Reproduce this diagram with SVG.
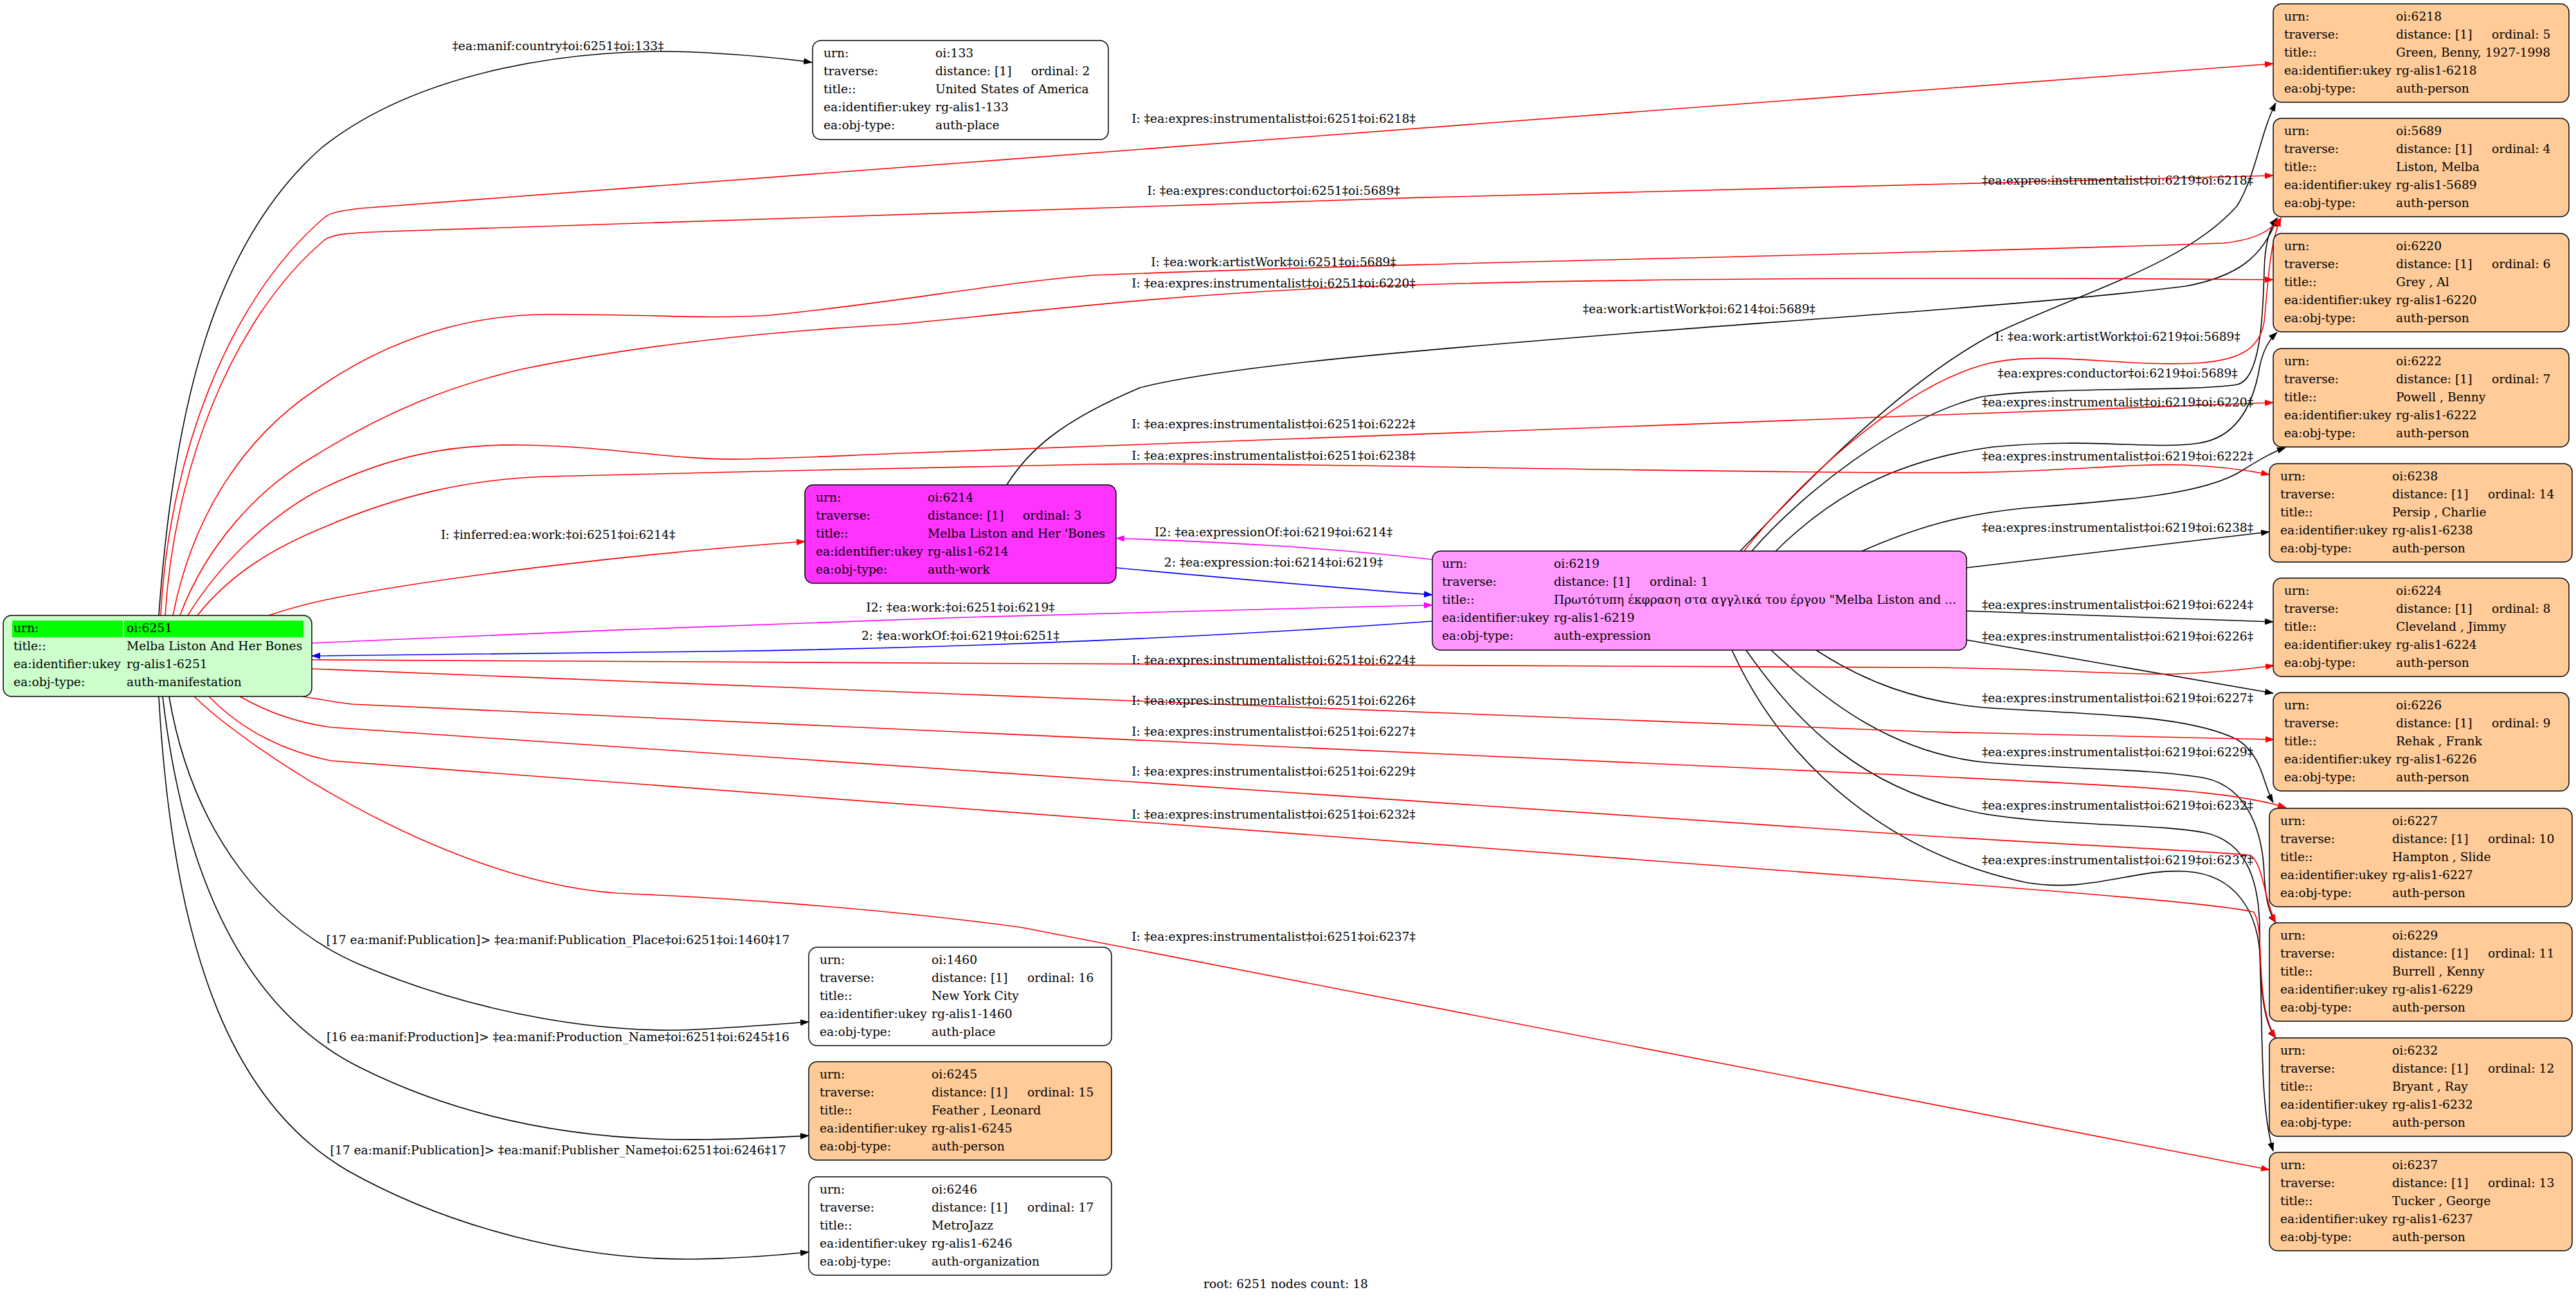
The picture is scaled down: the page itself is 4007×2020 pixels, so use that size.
<svg xmlns="http://www.w3.org/2000/svg" width="4007" height="2020" viewBox="0 0 4007 2020">
<defs>
<style>
text{font-family:"DejaVu Serif","Liberation Serif",serif;font-size:18.7px;fill:#000}
.lbl{text-anchor:middle}
.box{stroke:#000;stroke-width:1.5}
.w{fill:#fff}.p{fill:#ffcc99}.g{fill:#ccffcc}.mw{fill:#ff33ff}.me{fill:#ff99ff}
.e{fill:none;stroke-width:1.6}
.r{stroke:#f00}.k{stroke:#000}.m{stroke:#f0f}.b{stroke:#00f}
</style>
<marker id="ak" viewBox="0 0 14 10" refX="13" refY="5" markerWidth="14" markerHeight="10" markerUnits="userSpaceOnUse" orient="auto"><path d="M0,0L14,5L0,10z" fill="#000"/></marker>
<marker id="ar" viewBox="0 0 14 10" refX="13" refY="5" markerWidth="14" markerHeight="10" markerUnits="userSpaceOnUse" orient="auto"><path d="M0,0L14,5L0,10z" fill="#f00"/></marker>
<marker id="am" viewBox="0 0 14 10" refX="13" refY="5" markerWidth="14" markerHeight="10" markerUnits="userSpaceOnUse" orient="auto"><path d="M0,0L14,5L0,10z" fill="#f0f"/></marker>
<marker id="ab" viewBox="0 0 14 10" refX="13" refY="5" markerWidth="14" markerHeight="10" markerUnits="userSpaceOnUse" orient="auto"><path d="M0,0L14,5L0,10z" fill="#00f"/></marker>
</defs>
<rect width="4007" height="2020" fill="#fff"/>

<g id="connectors">
<!-- black edges -->
<path class="e k" marker-end="url(#ak)" d="M247,957 C270,640 330,380 500,230 C650,110 900,70 1100,82 C1170,86 1220,91 1263,97"/>
<path class="e k" marker-end="url(#ak)" d="M263,1083 C300,1300 420,1440 560,1500 C750,1580 950,1610 1100,1600 C1170,1596 1220,1592 1258,1589"/>
<path class="e k" marker-end="url(#ak)" d="M253,1083 C290,1400 400,1580 560,1660 C720,1740 900,1775 1100,1772 C1170,1771 1220,1768 1258,1766"/>
<path class="e k" marker-end="url(#ak)" d="M247,1083 C270,1500 370,1720 540,1820 C700,1910 900,1960 1080,1958 C1150,1957 1210,1952 1258,1947"/>
<path class="e k" marker-end="url(#ak)" d="M1566,754 C1600,700 1650,655 1773,603 C1900,570 2200,545 2548,517 C2900,490 3200,470 3400,445 C3480,430 3520,400 3542,339"/>
<path class="e k" marker-end="url(#ak)" d="M2706,858 C2800,760 2950,600 3100,520 C3250,450 3400,410 3480,320 C3510,270 3515,210 3540,160"/>
<path class="e k" marker-end="url(#ak)" d="M2724,858 C2800,770 2950,650 3082,617 C3200,600 3400,610 3480,598 C3515,590 3520,500 3522,420 C3523,380 3530,355 3542,339"/>
<path class="e k" marker-end="url(#ak)" d="M2761,858 C2850,770 2950,715 3100,695 C3250,680 3350,700 3421,689 C3480,680 3505,630 3515,570 C3520,545 3530,528 3542,517"/>
<path class="e k" marker-end="url(#ak)" d="M2894,858 C2980,820 3050,800 3150,790 C3300,778 3420,770 3482,735 C3510,718 3530,705 3555,696"/>
<path class="e k" marker-end="url(#ak)" d="M3058,883 L3530,827"/>
<path class="e k" marker-end="url(#ak)" d="M3058,950 L3536,967"/>
<path class="e k" marker-end="url(#ak)" d="M3058,995 L3536,1078"/>
<path class="e k" marker-end="url(#ak)" d="M2825,1011 C2900,1060 2980,1090 3083,1100 C3250,1112 3400,1110 3480,1150 C3520,1175 3520,1220 3536,1248"/>
<path class="e k" marker-end="url(#ak)" d="M2755,1011 C2850,1100 2950,1170 3083,1185 C3200,1196 3350,1195 3430,1210 C3500,1225 3520,1300 3522,1360 C3524,1400 3530,1420 3540,1435"/>
<path class="e k" marker-end="url(#ak)" d="M2716,1011 C2800,1130 2900,1230 3083,1265 C3200,1285 3350,1280 3430,1295 C3500,1310 3515,1380 3515,1450 C3515,1530 3520,1590 3540,1614"/>
<path class="e k" marker-end="url(#ak)" d="M2694,1011 C2780,1200 2950,1330 3150,1372 C3250,1390 3320,1350 3400,1355 C3480,1360 3510,1420 3515,1480 C3520,1600 3515,1720 3536,1790"/>
<!-- blue / magenta -->
<path class="e b" marker-end="url(#ab)" d="M1736,883 C1900,898 2050,912 2228,925"/>
<path class="e b" marker-end="url(#ab)" d="M2228,966 C1900,990 1500,1008 1100,1013 C800,1016 600,1018 485,1020"/>
<path class="e m" marker-end="url(#am)" d="M2228,870 C2050,850 1900,843 1736,837"/>
<path class="e m" marker-end="url(#am)" d="M485,1000 C800,985 1200,970 1500,960 C1800,952 2000,946 2228,941"/>
<!-- red edges -->
<path class="e r" marker-end="url(#ar)" d="M250,957 C262,720 350,470 505,338 C515,330 530,328 560,324 L3536,99"/>
<path class="e r" marker-end="url(#ar)" d="M257,957 C270,740 355,500 505,373 C520,362 560,362 600,360 C1500,325 2600,295 3536,273"/>
<path class="e r" marker-end="url(#ar)" d="M269,957 C300,800 380,680 491,606 C600,530 720,490 850,489 C1000,488 1100,497 1200,490 C1400,470 1550,440 1700,428 C2300,405 3000,395 3460,378 C3510,372 3530,360 3548,339"/>
<path class="e r" marker-end="url(#ar)" d="M280,957 C320,850 400,760 491,708 C600,640 700,600 812,574 C1000,535 1200,515 1400,504 C1600,485 1800,460 2064,448 C2400,433 3000,430 3536,435"/>
<path class="e r" marker-end="url(#ar)" d="M292,957 C340,880 410,810 491,765 C600,710 700,690 812,692 C950,694 1050,716 1156,714 C1250,712 1320,708 1400,705 L3536,626"/>
<path class="e r" marker-end="url(#ar)" d="M307,957 C360,890 430,850 506,819 C620,770 730,745 850,741 C1100,735 1500,725 1700,722 C2000,718 2500,734 3000,735 C3200,736 3300,720 3397,723 C3450,725 3490,730 3530,738"/>
<path class="e r" marker-end="url(#ar)" d="M418,957 C450,946 480,938 520,930 C700,895 1000,860 1252,842"/>
<path class="e r" marker-end="url(#ar)" d="M2712,858 C2780,770 2950,600 3094,565 C3180,545 3300,570 3409,565 C3480,562 3515,545 3522,500 C3528,440 3530,380 3548,339"/>
<path class="e r" marker-end="url(#ar)" d="M485,1026 C1200,1030 2400,1036 3000,1038 C3200,1040 3300,1050 3385,1048 C3450,1046 3500,1040 3537,1035"/>
<path class="e r" marker-end="url(#ar)" d="M485,1040 C1500,1080 2600,1125 3000,1138 C3300,1146 3450,1149 3537,1150"/>
<path class="e r" marker-end="url(#ar)" d="M470,1083 C490,1086 510,1090 547,1095 L3020,1208 C3300,1222 3470,1228 3556,1256"/>
<path class="e r" marker-end="url(#ar)" d="M373,1083 C420,1110 470,1125 515,1131 L3000,1300 C3300,1318 3460,1325 3500,1330 C3520,1340 3522,1400 3540,1435"/>
<path class="e r" marker-end="url(#ar)" d="M325,1083 C380,1140 450,1170 515,1183 L3000,1371 C3300,1393 3460,1408 3505,1418 C3525,1440 3505,1560 3540,1614"/>
<path class="e r" marker-end="url(#ar)" d="M302,1083 C380,1160 700,1380 981,1390 C1100,1395 1350,1410 1588,1442 L3530,1819"/>
<!-- edge labels -->
<text class="lbl" x="868" y="78">‡ea:manif:country‡oi:6251‡oi:133‡</text>
<text class="lbl" x="868" y="838">I: ‡inferred:ea:work:‡oi:6251‡oi:6214‡</text>
<text class="lbl" x="868" y="1468">[17 ea:manif:Publication]&gt; ‡ea:manif:Publication_Place‡oi:6251‡oi:1460‡17</text>
<text class="lbl" x="868" y="1619">[16 ea:manif:Production]&gt; ‡ea:manif:Production_Name‡oi:6251‡oi:6245‡16</text>
<text class="lbl" x="868" y="1795">[17 ea:manif:Publication]&gt; ‡ea:manif:Publisher_Name‡oi:6251‡oi:6246‡17</text>
<text class="lbl" x="1494" y="951">I2: ‡ea:work:‡oi:6251‡oi:6219‡</text>
<text class="lbl" x="1494" y="995">2: ‡ea:workOf:‡oi:6219‡oi:6251‡</text>
<text class="lbl" x="1981" y="191">I: ‡ea:expres:instrumentalist‡oi:6251‡oi:6218‡</text>
<text class="lbl" x="1981" y="303">I: ‡ea:expres:conductor‡oi:6251‡oi:5689‡</text>
<text class="lbl" x="1981" y="414">I: ‡ea:work:artistWork‡oi:6251‡oi:5689‡</text>
<text class="lbl" x="1981" y="447">I: ‡ea:expres:instrumentalist‡oi:6251‡oi:6220‡</text>
<text class="lbl" x="2643" y="487">‡ea:work:artistWork‡oi:6214‡oi:5689‡</text>
<text class="lbl" x="1981" y="666">I: ‡ea:expres:instrumentalist‡oi:6251‡oi:6222‡</text>
<text class="lbl" x="1981" y="715">I: ‡ea:expres:instrumentalist‡oi:6251‡oi:6238‡</text>
<text class="lbl" x="1981" y="834">I2: ‡ea:expressionOf:‡oi:6219‡oi:6214‡</text>
<text class="lbl" x="1981" y="881">2: ‡ea:expression:‡oi:6214‡oi:6219‡</text>
<text class="lbl" x="1981" y="1033">I: ‡ea:expres:instrumentalist‡oi:6251‡oi:6224‡</text>
<text class="lbl" x="1981" y="1096">I: ‡ea:expres:instrumentalist‡oi:6251‡oi:6226‡</text>
<text class="lbl" x="1981" y="1144">I: ‡ea:expres:instrumentalist‡oi:6251‡oi:6227‡</text>
<text class="lbl" x="1981" y="1206">I: ‡ea:expres:instrumentalist‡oi:6251‡oi:6229‡</text>
<text class="lbl" x="1981" y="1273">I: ‡ea:expres:instrumentalist‡oi:6251‡oi:6232‡</text>
<text class="lbl" x="1981" y="1463">I: ‡ea:expres:instrumentalist‡oi:6251‡oi:6237‡</text>
<text class="lbl" x="3294" y="287">‡ea:expres:instrumentalist‡oi:6219‡oi:6218‡</text>
<text class="lbl" x="3294" y="530">I: ‡ea:work:artistWork‡oi:6219‡oi:5689‡</text>
<text class="lbl" x="3294" y="587">‡ea:expres:conductor‡oi:6219‡oi:5689‡</text>
<text class="lbl" x="3294" y="632">‡ea:expres:instrumentalist‡oi:6219‡oi:6220‡</text>
<text class="lbl" x="3294" y="716">‡ea:expres:instrumentalist‡oi:6219‡oi:6222‡</text>
<text class="lbl" x="3294" y="827">‡ea:expres:instrumentalist‡oi:6219‡oi:6238‡</text>
<text class="lbl" x="3294" y="947">‡ea:expres:instrumentalist‡oi:6219‡oi:6224‡</text>
<text class="lbl" x="3294" y="996">‡ea:expres:instrumentalist‡oi:6219‡oi:6226‡</text>
<text class="lbl" x="3294" y="1092">‡ea:expres:instrumentalist‡oi:6219‡oi:6227‡</text>
<text class="lbl" x="3294" y="1176">‡ea:expres:instrumentalist‡oi:6219‡oi:6229‡</text>
<text class="lbl" x="3294" y="1259">‡ea:expres:instrumentalist‡oi:6219‡oi:6232‡</text>
<text class="lbl" x="3294" y="1344">‡ea:expres:instrumentalist‡oi:6219‡oi:6237‡</text>
</g>

<g id="n6251">
<rect class="box g" x="5" y="957" width="480" height="126" rx="13"/>
<rect x="19" y="965" width="172" height="26" fill="#00ff00"/>
<rect x="193" y="965" width="279" height="26" fill="#00ff00"/>
<text x="21" y="983">urn:</text><text x="197" y="983">oi:6251</text>
<text x="21" y="1011">title::</text><text x="197" y="1011">Melba Liston And Her Bones</text>
<text x="21" y="1039">ea:identifier:ukey</text><text x="197" y="1039">rg-alis1-6251</text>
<text x="21" y="1067">ea:obj-type:</text><text x="197" y="1067">auth-manifestation</text>
</g>

<g id="n133">
<rect class="box w" x="1264" y="63" width="460" height="154" rx="13"/>
<text x="1281" y="89">urn:</text><text x="1455" y="89">oi:133</text>
<text x="1281" y="117">traverse:</text><text x="1455" y="117">distance: [1]</text><text x="1604" y="117">ordinal: 2</text>
<text x="1281" y="145">title::</text><text x="1455" y="145">United States of America</text>
<text x="1281" y="173">ea:identifier:ukey</text><text x="1455" y="173">rg-alis1-133</text>
<text x="1281" y="201">ea:obj-type:</text><text x="1455" y="201">auth-place</text>
</g>

<g id="n6214">
<rect class="box mw" x="1252" y="754" width="484" height="153" rx="13"/>
<text x="1269" y="780">urn:</text><text x="1443" y="780">oi:6214</text>
<text x="1269" y="808">traverse:</text><text x="1443" y="808">distance: [1]</text><text x="1591" y="808">ordinal: 3</text>
<text x="1269" y="836">title::</text><text x="1443" y="836">Melba Liston and Her 'Bones</text>
<text x="1269" y="864">ea:identifier:ukey</text><text x="1443" y="864">rg-alis1-6214</text>
<text x="1269" y="892">ea:obj-type:</text><text x="1443" y="892">auth-work</text>
</g>

<g id="n6219">
<rect class="box me" x="2228" y="857" width="831" height="154" rx="13"/>
<text x="2243" y="883">urn:</text><text x="2417" y="883">oi:6219</text>
<text x="2243" y="911">traverse:</text><text x="2417" y="911">distance: [1]</text><text x="2566" y="911">ordinal: 1</text>
<text x="2243" y="939">title::</text><text x="2417" y="939">Πρωτότυπη έκφραση στα αγγλικά του έργου "Melba Liston and ...</text>
<text x="2243" y="967">ea:identifier:ukey</text><text x="2417" y="967">rg-alis1-6219</text>
<text x="2243" y="995">ea:obj-type:</text><text x="2417" y="995">auth-expression</text>
</g>

<g id="n6218">
<rect class="box p" x="3536" y="6" width="460" height="153" rx="13"/>
<text x="3553" y="32">urn:</text><text x="3727" y="32">oi:6218</text>
<text x="3553" y="60">traverse:</text><text x="3727" y="60">distance: [1]</text><text x="3876" y="60">ordinal: 5</text>
<text x="3553" y="88">title::</text><text x="3727" y="88">Green, Benny, 1927-1998</text>
<text x="3553" y="116">ea:identifier:ukey</text><text x="3727" y="116">rg-alis1-6218</text>
<text x="3553" y="144">ea:obj-type:</text><text x="3727" y="144">auth-person</text>
</g>

<g id="n5689">
<rect class="box p" x="3536" y="184" width="460" height="153" rx="13"/>
<text x="3553" y="210">urn:</text><text x="3727" y="210">oi:5689</text>
<text x="3553" y="238">traverse:</text><text x="3727" y="238">distance: [1]</text><text x="3876" y="238">ordinal: 4</text>
<text x="3553" y="266">title::</text><text x="3727" y="266">Liston, Melba</text>
<text x="3553" y="294">ea:identifier:ukey</text><text x="3727" y="294">rg-alis1-5689</text>
<text x="3553" y="322">ea:obj-type:</text><text x="3727" y="322">auth-person</text>
</g>

<g id="n6220">
<rect class="box p" x="3536" y="363" width="460" height="153" rx="13"/>
<text x="3553" y="389">urn:</text><text x="3727" y="389">oi:6220</text>
<text x="3553" y="417">traverse:</text><text x="3727" y="417">distance: [1]</text><text x="3876" y="417">ordinal: 6</text>
<text x="3553" y="445">title::</text><text x="3727" y="445">Grey , Al</text>
<text x="3553" y="473">ea:identifier:ukey</text><text x="3727" y="473">rg-alis1-6220</text>
<text x="3553" y="501">ea:obj-type:</text><text x="3727" y="501">auth-person</text>
</g>

<g id="n6222">
<rect class="box p" x="3536" y="542" width="460" height="153" rx="13"/>
<text x="3553" y="568">urn:</text><text x="3727" y="568">oi:6222</text>
<text x="3553" y="596">traverse:</text><text x="3727" y="596">distance: [1]</text><text x="3876" y="596">ordinal: 7</text>
<text x="3553" y="624">title::</text><text x="3727" y="624">Powell , Benny</text>
<text x="3553" y="652">ea:identifier:ukey</text><text x="3727" y="652">rg-alis1-6222</text>
<text x="3553" y="680">ea:obj-type:</text><text x="3727" y="680">auth-person</text>
</g>

<g id="n6238">
<rect class="box p" x="3530" y="721" width="471" height="153" rx="13"/>
<text x="3547" y="747">urn:</text><text x="3721" y="747">oi:6238</text>
<text x="3547" y="775">traverse:</text><text x="3721" y="775">distance: [1]</text><text x="3870" y="775">ordinal: 14</text>
<text x="3547" y="803">title::</text><text x="3721" y="803">Persip , Charlie</text>
<text x="3547" y="831">ea:identifier:ukey</text><text x="3721" y="831">rg-alis1-6238</text>
<text x="3547" y="859">ea:obj-type:</text><text x="3721" y="859">auth-person</text>
</g>

<g id="n6224">
<rect class="box p" x="3536" y="899" width="460" height="153" rx="13"/>
<text x="3553" y="925">urn:</text><text x="3727" y="925">oi:6224</text>
<text x="3553" y="953">traverse:</text><text x="3727" y="953">distance: [1]</text><text x="3876" y="953">ordinal: 8</text>
<text x="3553" y="981">title::</text><text x="3727" y="981">Cleveland , Jimmy</text>
<text x="3553" y="1009">ea:identifier:ukey</text><text x="3727" y="1009">rg-alis1-6224</text>
<text x="3553" y="1037">ea:obj-type:</text><text x="3727" y="1037">auth-person</text>
</g>

<g id="n6226">
<rect class="box p" x="3536" y="1077" width="460" height="153" rx="13"/>
<text x="3553" y="1103">urn:</text><text x="3727" y="1103">oi:6226</text>
<text x="3553" y="1131">traverse:</text><text x="3727" y="1131">distance: [1]</text><text x="3876" y="1131">ordinal: 9</text>
<text x="3553" y="1159">title::</text><text x="3727" y="1159">Rehak , Frank</text>
<text x="3553" y="1187">ea:identifier:ukey</text><text x="3727" y="1187">rg-alis1-6226</text>
<text x="3553" y="1215">ea:obj-type:</text><text x="3727" y="1215">auth-person</text>
</g>

<g id="n6227">
<rect class="box p" x="3530" y="1257" width="471" height="153" rx="13"/>
<text x="3547" y="1283">urn:</text><text x="3721" y="1283">oi:6227</text>
<text x="3547" y="1311">traverse:</text><text x="3721" y="1311">distance: [1]</text><text x="3870" y="1311">ordinal: 10</text>
<text x="3547" y="1339">title::</text><text x="3721" y="1339">Hampton , Slide</text>
<text x="3547" y="1367">ea:identifier:ukey</text><text x="3721" y="1367">rg-alis1-6227</text>
<text x="3547" y="1395">ea:obj-type:</text><text x="3721" y="1395">auth-person</text>
</g>

<g id="n6229">
<rect class="box p" x="3530" y="1435" width="471" height="153" rx="13"/>
<text x="3547" y="1461">urn:</text><text x="3721" y="1461">oi:6229</text>
<text x="3547" y="1489">traverse:</text><text x="3721" y="1489">distance: [1]</text><text x="3870" y="1489">ordinal: 11</text>
<text x="3547" y="1517">title::</text><text x="3721" y="1517">Burrell , Kenny</text>
<text x="3547" y="1545">ea:identifier:ukey</text><text x="3721" y="1545">rg-alis1-6229</text>
<text x="3547" y="1573">ea:obj-type:</text><text x="3721" y="1573">auth-person</text>
</g>

<g id="n6232">
<rect class="box p" x="3530" y="1614" width="471" height="153" rx="13"/>
<text x="3547" y="1640">urn:</text><text x="3721" y="1640">oi:6232</text>
<text x="3547" y="1668">traverse:</text><text x="3721" y="1668">distance: [1]</text><text x="3870" y="1668">ordinal: 12</text>
<text x="3547" y="1696">title::</text><text x="3721" y="1696">Bryant , Ray</text>
<text x="3547" y="1724">ea:identifier:ukey</text><text x="3721" y="1724">rg-alis1-6232</text>
<text x="3547" y="1752">ea:obj-type:</text><text x="3721" y="1752">auth-person</text>
</g>

<g id="n6237">
<rect class="box p" x="3530" y="1792" width="471" height="153" rx="13"/>
<text x="3547" y="1818">urn:</text><text x="3721" y="1818">oi:6237</text>
<text x="3547" y="1846">traverse:</text><text x="3721" y="1846">distance: [1]</text><text x="3870" y="1846">ordinal: 13</text>
<text x="3547" y="1874">title::</text><text x="3721" y="1874">Tucker , George</text>
<text x="3547" y="1902">ea:identifier:ukey</text><text x="3721" y="1902">rg-alis1-6237</text>
<text x="3547" y="1930">ea:obj-type:</text><text x="3721" y="1930">auth-person</text>
</g>

<g id="n1460">
<rect class="box w" x="1258" y="1473" width="471" height="153" rx="13"/>
<text x="1275" y="1499">urn:</text><text x="1449" y="1499">oi:1460</text>
<text x="1275" y="1527">traverse:</text><text x="1449" y="1527">distance: [1]</text><text x="1598" y="1527">ordinal: 16</text>
<text x="1275" y="1555">title::</text><text x="1449" y="1555">New York City</text>
<text x="1275" y="1583">ea:identifier:ukey</text><text x="1449" y="1583">rg-alis1-1460</text>
<text x="1275" y="1611">ea:obj-type:</text><text x="1449" y="1611">auth-place</text>
</g>

<g id="n6245">
<rect class="box p" x="1258" y="1651" width="471" height="153" rx="13"/>
<text x="1275" y="1677">urn:</text><text x="1449" y="1677">oi:6245</text>
<text x="1275" y="1705">traverse:</text><text x="1449" y="1705">distance: [1]</text><text x="1598" y="1705">ordinal: 15</text>
<text x="1275" y="1733">title::</text><text x="1449" y="1733">Feather , Leonard</text>
<text x="1275" y="1761">ea:identifier:ukey</text><text x="1449" y="1761">rg-alis1-6245</text>
<text x="1275" y="1789">ea:obj-type:</text><text x="1449" y="1789">auth-person</text>
</g>

<g id="n6246">
<rect class="box w" x="1258" y="1830" width="471" height="153" rx="13"/>
<text x="1275" y="1856">urn:</text><text x="1449" y="1856">oi:6246</text>
<text x="1275" y="1884">traverse:</text><text x="1449" y="1884">distance: [1]</text><text x="1598" y="1884">ordinal: 17</text>
<text x="1275" y="1912">title::</text><text x="1449" y="1912">MetroJazz</text>
<text x="1275" y="1940">ea:identifier:ukey</text><text x="1449" y="1940">rg-alis1-6246</text>
<text x="1275" y="1968">ea:obj-type:</text><text x="1449" y="1968">auth-organization</text>
</g>

<text class="lbl" x="2000" y="2003">root: 6251 nodes count: 18</text>
</svg>
